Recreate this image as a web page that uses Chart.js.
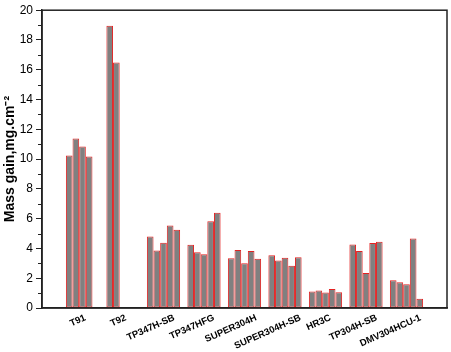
<!DOCTYPE html>
<html>
<head>
<meta charset="utf-8">
<script src="https://cdn.jsdelivr.net/npm/chart.js@4/dist/chart.umd.min.js"></script>
<style>
  html, body { margin: 0; padding: 0; background: #fff; }
  #wrap { width: 451px; height: 352px; }
</style>
</head>
<body>
<div id="wrap"><canvas id="massChart"></canvas></div>
<script>
// steel grades along the x axis
const grades = ['T91', 'T92', 'TP347H-SB', 'TP347HFG', 'SUPER304H',
                'SUPER304H-SB', 'HR3C', 'TP304H-SB', 'DMV304HCU-1'];

// mass gain (mg/cm2), one array per specimen; null = no bar
const sample1 = [10.25, 18.95, 4.80, 4.25, 3.34, 3.54, 1.11, 4.27, 1.86];
const sample2 = [11.38, 16.48, 3.86, 3.74, 3.90, 3.19, 1.18, 3.83, 1.73];
const sample3 = [10.84, null,  4.39, 3.61, 3.01, 3.37, 1.04, 2.35, 1.59];
const sample4 = [10.18, null,  5.54, 5.83, 3.83, 2.84, 1.28, 4.37, 4.67];
const sample5 = [null,  null,  5.26, 6.40, 3.30, 3.41, 1.06, 4.45, 0.62];

const yTicks = [0, 2, 4, 6, 8, 10, 12, 14, 16, 18, 20];

// empty slot either side so the groups sit at 1..9 on a 0..10 axis
const labels = [''].concat(grades, ['']);
const pad = arr => [null].concat(arr, [null]);

const frameColor = '#222';
const FONT = "'Liberation Sans', Arial, sans-serif";

// box around the plot, minor y ticks, and the slanted grade names
const framePlugin = {
  id: 'frame',
  afterDraw(chart) {
    const { ctx, chartArea: a, scales } = chart;
    ctx.save();
    ctx.strokeStyle = frameColor;
    ctx.lineWidth = 1.5;
    ctx.strokeRect(a.left, a.top, a.right - a.left, a.bottom - a.top);
    ctx.lineWidth = 1;
    for (let v = 1; v < 20; v += 2) {
      const y = Math.round(scales.y.getPixelForValue(v)) + 0.5;
      ctx.beginPath();
      ctx.moveTo(a.left - 4, y);
      ctx.lineTo(a.left, y);
      ctx.stroke();
    }

    // labels rotated ~24deg, anchored about 3/4 along the text
    const ang = 24 * Math.PI / 180;
    const h = 9.5;
    ctx.font = 'bold 9.5px ' + FONT;
    ctx.fillStyle = '#000';
    ctx.textAlign = 'center';
    ctx.textBaseline = 'middle';
    grades.forEach((g, i) => {
      const w = ctx.measureText(g).width;
      const W = w * Math.cos(ang) + h * Math.sin(ang);
      const H = w * Math.sin(ang) + h * Math.cos(ang);
      const cx = scales.x.getPixelForValue(i + 1) - 0.25 * W;
      const cy = a.bottom + 5 + H / 2;
      ctx.save();
      ctx.translate(cx, cy);
      ctx.rotate(-ang);
      ctx.fillText(g, 0, 0);
      ctx.restore();
    });
    ctx.restore();
  }
};

const mk = (data) => ({
  data: pad(data),
  backgroundColor: '#808080',
  borderColor: '#e32222',
  borderWidth: 1,
  borderSkipped: false,
  barPercentage: 1,
  categoryPercentage: 0.82,
});

new Chart(document.getElementById('massChart'), {
  type: 'bar',
  data: {
    labels,
    datasets: [mk(sample1), mk(sample2), mk(sample3), mk(sample4), mk(sample5)],
  },
  options: {
    responsive: true,
    maintainAspectRatio: false,
    animation: false,
    layout: { padding: { top: 6, right: 4, left: 0, bottom: 0 } },
    plugins: { legend: { display: false }, tooltip: { enabled: false } },
    scales: {
      x: {
        offset: false,
        grid: { display: false },
        border: { display: true, color: frameColor, width: 1.5 },
        ticks: { display: false },
        afterFit: s => { s.height = 44; },
      },
      y: {
        min: 0,
        max: 20,
        afterBuildTicks: s => { s.ticks = yTicks.map(v => ({ value: v })); },
        grid: { drawOnChartArea: false, tickLength: 6, tickColor: frameColor },
        border: { display: true, color: frameColor, width: 1.5 },
        ticks: {
          padding: 3,
          color: '#000',
          font: { family: FONT, size: 12 },
        },
        title: {
          display: true,
          text: 'Mass gain,mg.cm⁻²',
          color: '#000',
          padding: { top: 2, bottom: 0 },
          font: { family: FONT, size: 14, weight: 'bold' },
        },
        afterFit: s => { s.width = 42; },
      },
    },
  },
  plugins: [framePlugin],
});
</script>
</body>
</html>
